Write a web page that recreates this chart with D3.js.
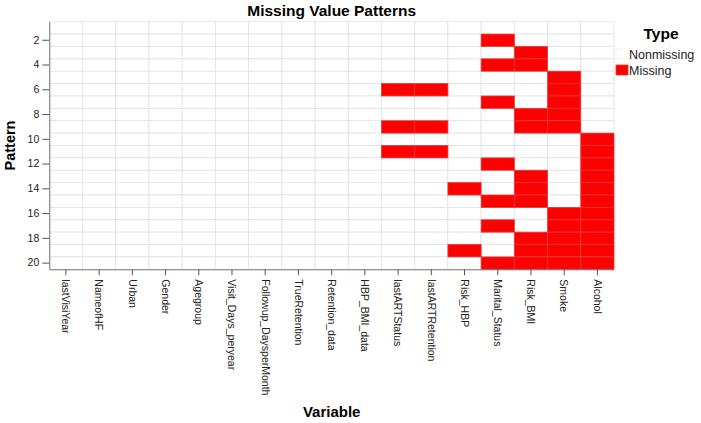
<!DOCTYPE html>
<html>

<head>
    <meta charset="utf-8">
    <script src="https://d3js.org/d3.v7.min.js"></script>
    <style>
        body {
            margin: 0;
            background: white;
        }
        text {
            font-family: "Liberation Sans", Arial, sans-serif;
        }
    </style>
</head>

<body>
    <div id="my_dataviz"></div>
</body>
<script>

    // variables (columns) and patterns (rows)
    var variables = ["lastVisiYear", "NameofHF", "Urban", "Gender", "Agegroup", "Visit_Days_peryear",
        "Followup_DaysperMonth", "TrueRetention", "Retention_data", "HBP_BMI_data", "lastARTStatus",
        "lastARTRetention", "Risk_HBP", "Marital_Status", "Risk_BMI", "Smoke", "Alcohol"];
    var patterns = d3.range(1, 21);
    var yTicks = [2, 4, 6, 8, 10, 12, 14, 16, 18, 20];

    // missing variables for each pattern (pattern 1 .. 20)
    var missingByPattern = [
        [],
        ["Marital_Status"],
        ["Risk_BMI"],
        ["Marital_Status", "Risk_BMI"],
        ["Smoke"],
        ["lastARTStatus", "lastARTRetention", "Smoke"],
        ["Marital_Status", "Smoke"],
        ["Risk_BMI", "Smoke"],
        ["lastARTStatus", "lastARTRetention", "Risk_BMI", "Smoke"],
        ["Alcohol"],
        ["lastARTStatus", "lastARTRetention", "Alcohol"],
        ["Marital_Status", "Alcohol"],
        ["Risk_BMI", "Alcohol"],
        ["Risk_HBP", "Risk_BMI", "Alcohol"],
        ["Marital_Status", "Risk_BMI", "Alcohol"],
        ["Smoke", "Alcohol"],
        ["Marital_Status", "Smoke", "Alcohol"],
        ["Risk_BMI", "Smoke", "Alcohol"],
        ["Risk_HBP", "Risk_BMI", "Smoke", "Alcohol"],
        ["Marital_Status", "Risk_BMI", "Smoke", "Alcohol"]
    ];
    var types = ["Nonmissing", "Missing"];

    var width = 701, height = 423;
    var plot = { left: 49.3, right: 614, top: 21.7, bottom: 269.3 };

    var svg = d3.select("#my_dataviz")
        .append("svg")
        .attr("width", width)
        .attr("height", height);

    var x = d3.scaleBand()
        .domain(variables)
        .range([plot.left, plot.right]);

    var y = d3.scaleBand()
        .domain(patterns)
        .range([plot.top, plot.bottom]);

    var color = d3.scaleOrdinal()
        .domain(types)
        .range(["#ffffff", "#ff0000"]);

    // build cell table
    var cells = [];
    patterns.forEach(function (p, i) {
        variables.forEach(function (v) {
            cells.push({
                pattern: p,
                variable: v,
                type: missingByPattern[i].indexOf(v) >= 0 ? "Missing" : "Nonmissing"
            });
        });
    });

    // white cells first (grid), red on top
    cells.sort(function (a, b) { return (a.type == "Missing") - (b.type == "Missing"); });

    svg.append("g")
        .selectAll("rect")
        .data(cells)
        .enter().append("rect")
        .attr("x", function (d) { return x(d.variable); })
        .attr("y", function (d) { return y(d.pattern); })
        .attr("width", x.bandwidth())
        .attr("height", y.bandwidth())
        .attr("fill", function (d) { return color(d.type); })
        .attr("stroke", function (d) { return d.type == "Missing" ? "#e23a3a" : "#e2e2e2"; })
        .attr("stroke-width", 0.8);

    // Y axis
    var yAxis = svg.append("g")
        .attr("transform", "translate(" + plot.left + ",0)")
        .call(d3.axisLeft(y).tickValues(yTicks).tickSize(7).tickPadding(3).tickSizeOuter(0));
    yAxis.select(".domain").attr("stroke", "#777");
    yAxis.selectAll(".tick line").attr("stroke", "#555");
    yAxis.selectAll(".tick text")
        .attr("fill", "#222")
        .style("font-size", "10.5px");

    // X axis
    var xAxis = svg.append("g")
        .attr("transform", "translate(0," + plot.bottom + ")")
        .call(d3.axisBottom(x).tickSize(6).tickSizeOuter(0));
    xAxis.select(".domain").attr("stroke", "#777");
    xAxis.selectAll(".tick line").attr("stroke", "#555");
    xAxis.selectAll(".tick text")
        .attr("fill", "#222")
        .style("font-size", "10.5px")
        .attr("transform", "rotate(90)")
        .attr("x", 10)
        .attr("y", 0)
        .attr("dy", "0.35em")
        .style("text-anchor", "start");

    // title
    svg.append("text")
        .attr("x", (plot.left + plot.right) / 2)
        .attr("y", 16)
        .style("text-anchor", "middle")
        .style("font-size", "15.5px")
        .style("font-weight", "bold")
        .text("Missing Value Patterns");

    // axis titles
    svg.append("text")
        .attr("transform", "translate(15," + ((plot.top + plot.bottom) / 2) + ") rotate(-90)")
        .style("text-anchor", "middle")
        .style("font-size", "14.5px")
        .style("font-weight", "bold")
        .text("Pattern");

    svg.append("text")
        .attr("x", (plot.left + plot.right) / 2)
        .attr("y", 417)
        .style("text-anchor", "middle")
        .style("font-size", "15px")
        .style("font-weight", "bold")
        .text("Variable");

    // legend
    var legend = svg.append("g");
    legend.append("text")
        .attr("x", 661)
        .attr("y", 39)
        .style("text-anchor", "middle")
        .style("font-size", "15.5px")
        .style("font-weight", "bold")
        .text("Type");

    var items = legend.selectAll("g.item")
        .data(types)
        .enter().append("g")
        .attr("class", "item")
        .attr("transform", function (d, i) { return "translate(616," + (49 + i * 16) + ")"; });
    items.append("rect")
        .attr("width", 12)
        .attr("height", 10)
        .attr("fill", function (d) { return color(d); })
        .attr("stroke", function (d) { return d == "Missing" ? "#e23a3a" : "#f0f0f0"; })
        .attr("stroke-width", 0.8);
    items.append("text")
        .attr("x", 13)
        .attr("y", 9.5)
        .attr("fill", "#222")
        .style("font-size", "12.5px")
        .text(function (d) { return d; });

</script>

</html>
